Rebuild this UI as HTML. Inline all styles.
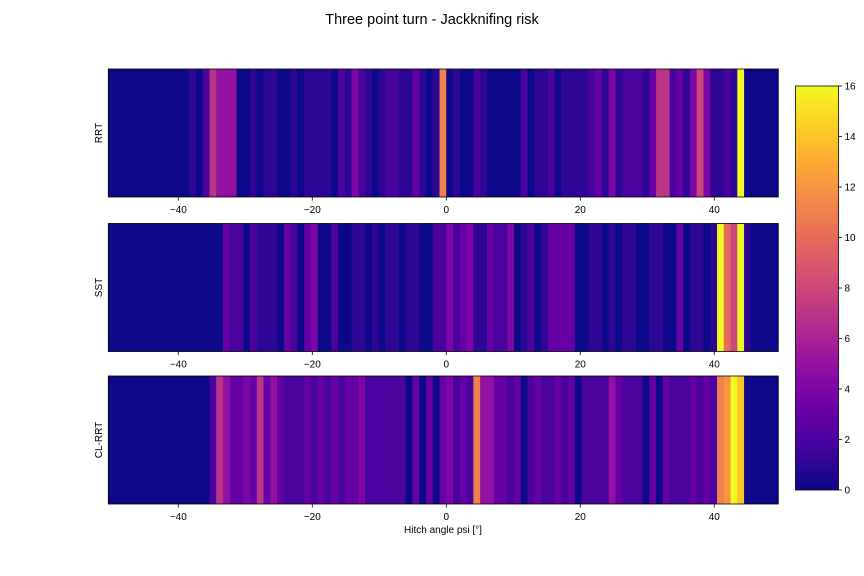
<!DOCTYPE html>
<html><head><meta charset="utf-8"><style>
html,body{margin:0;padding:0;background:#fff;}
svg{display:block;font-family:"Liberation Sans","DejaVu Sans",sans-serif;}
</style></head><body>
<svg id="chart" width="864" height="576" viewBox="0 0 864 576"></svg>
<script>
const rowNames = ["RRT","SST","CL-RRT"];
const rrtValues = [
0,0,0,0,0,0,0,0,0,0,
0,0,1,0,2,7,5,5,5,0,
0,1,0,1,1,0,0,1,0,1,
1,1,1,0,2,1,4,2,1,0,
1,2,2,1,1,3,1,0,1,11,
0,1,0,0,2,1,0,0,0,0,
0,2,0,1,1,2,0,1,1,1,
1,2,3,1,4,1,2,2,2,1,
3,7,7,2,3,1,4,8,4,1,
1,2,1,16,0,0,0,0,0,0];
const sstValues = [
0,0,0,0,0,0,0,0,0,0,
0,0,0,0,0,0,0,3,2,2,
0,2,1,1,1,0,3,2,0,3,
4,0,0,2,0,0,1,1,0,1,
0,1,1,0,1,1,0,0,2,2,
4,2,3,4,1,1,3,2,2,4,
0,1,2,0,1,3,3,3,3,0,
0,1,1,0,1,0,1,1,0,0,
1,1,0,0,3,0,1,1,0,1,
16,10,8,16,1,0,0,0,0,0];
const clrrtValues = [
0,0,0,0,0,0,0,0,0,0,
0,0,0,0,0,2,7,5,3,3,
4,3,7,3,5,3,2,2,2,3,
2,3,2,3,2,3,3,4,2,2,
2,2,2,2,0,3,0,3,0,3,
4,2,3,2,11,5,5,3,3,2,
3,0,2,3,2,2,3,2,3,0,
2,2,2,2,5,3,2,2,2,0,
3,0,3,2,2,2,3,2,3,2,
11,12,16,14,0,0,0,0,0,0];
const xTicks = [-40,-20,0,20,40];
const cbTicks = [0,2,4,6,8,10,12,14,16];

const NS="http://www.w3.org/2000/svg";
const svg=document.getElementById('chart');
function mk(tag,attrs,parent){const e=document.createElementNS(NS,tag);for(const k in attrs)e.setAttribute(k,attrs[k]);(parent||svg).appendChild(e);return e;}
const plasma=["#0d0887","#41049d","#6a00a8","#8f0da4","#b12a90","#cc4778","#e16462","#f2844b","#fca636","#fcce25","#f0f921"];
function hex(h){return [1,3,5].map(i=>parseInt(h.substr(i,2),16));}
function cmap(v){let t=Math.max(0,Math.min(1,v/16))*10;let i=Math.min(9,Math.floor(t));let f=t-i;const a=hex(plasma[i]),b=hex(plasma[i+1]);return "rgb("+a.map((c,j)=>Math.round(c+(b[j]-c)*f)).join(",")+")";}
const AX_L=108.3,AX_R=778.3;
function xs(v){return 446.3+6.7*v;}
const panels=[{y:69,h:128,vals:rrtValues},{y:223.5,h:128,vals:sstValues},{y:376,h:128,vals:clrrtValues}];
const defs=mk('defs',{});
const cp=mk('clipPath',{id:'clipx'},defs);
mk('rect',{x:AX_L,y:0,width:AX_R-AX_L,height:576},cp);

mk('text',{x:432,y:24,'text-anchor':'middle','font-size':14.5,fill:'#000'}).textContent="Three point turn - Jackknifing risk";
const title=svg.lastChild;

panels.forEach((p,pi)=>{
  const g=mk('g',{'clip-path':'url(#clipx)'});
  
  
  const n=p.vals.length,w=100/(n-1);
  p.vals.forEach((v,k)=>{
    const c=-50+k*w;const x0=xs(c-w/2),x1=xs(c+w/2);
    const r=mk('rect',{x:x0,y:p.y,width:x1-x0+0.4,height:p.h,fill:cmap(v)},g);
    
    
  });
  const fr=mk('rect',{x:AX_L,y:p.y,width:AX_R-AX_L,height:p.h,fill:'none',stroke:'#000','stroke-width':0.8});
  
  
  xTicks.forEach(t=>{
    const tx=xs(t);
    const tl=mk('line',{x1:tx,x2:tx,y1:p.y+p.h,y2:p.y+p.h+3.5,stroke:'#000','stroke-width':0.8});
    
    
    const lb=mk('text',{x:tx,y:p.y+p.h+16,'text-anchor':'middle','font-size':10,fill:'#000'});
    lb.textContent=(t<0?"\u2212"+(-t):""+t);
    
    
  });
  const yl=mk('text',{transform:'translate(102,'+(p.y+p.h/2)+') rotate(-90)','text-anchor':'middle','font-size':10,fill:'#000'});
  yl.textContent=rowNames[pi];
  
  
});
const xl=mk('text',{x:443,y:533,'text-anchor':'middle','font-size':10,fill:'#000'});
xl.textContent="Hitch angle psi [°]";



// colorbar
const CB_X=795.5,CB_W=43,CB_T=86,CB_B=490;
const lg=mk('linearGradient',{id:'plasmag',x1:0,y1:1,x2:0,y2:0},defs);
plasma.forEach((c,i)=>mk('stop',{offset:(i*10)+'%','stop-color':c},lg));
const cb=mk('rect',{x:CB_X,y:CB_T,width:CB_W,height:CB_B-CB_T,fill:'url(#plasmag)',stroke:'#000','stroke-width':0.8});


cbTicks.forEach(t=>{
  const y=CB_B-(CB_B-CB_T)*t/16;
  const l=mk('line',{x1:CB_X+CB_W,x2:CB_X+CB_W+3.5,y1:y,y2:y,stroke:'#000','stroke-width':0.8});
  
  
  const tx=mk('text',{x:CB_X+CB_W+6,y:y+3.5,'font-size':10,fill:'#000'});
  tx.textContent=t;
  
  
});
</script>
</body></html>
